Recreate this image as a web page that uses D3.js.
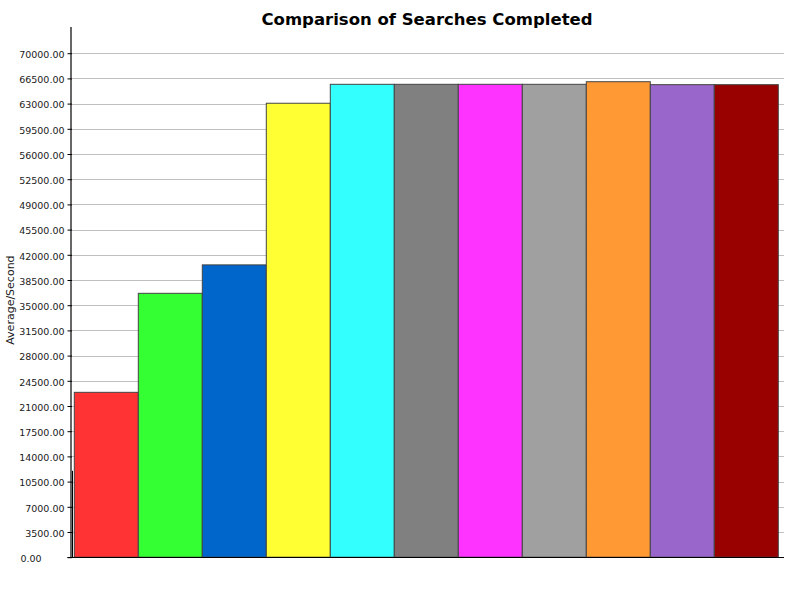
<!DOCTYPE html>
<html>
<head>
<meta charset="utf-8">
<script src="https://cdn.jsdelivr.net/npm/d3@7"></script>
<style>
  html, body { margin: 0; padding: 0; background: #ffffff; }
  svg { display: block; }
</style>
</head>
<body>
<svg id="chart" width="800" height="600"></svg>
<script>
// ---- data ----
const categories = ["S1", "S2", "S3", "S4", "S5", "S6", "S7", "S8", "S9", "S10", "S11"];
const values = [22900, 36650, 40600, 63050, 65680, 65680, 65680, 65680, 66040, 65630, 65630];
const colors = ["#ff3333", "#33ff33", "#0066cc", "#ffff33", "#33ffff", "#808080",
                "#ff33ff", "#a0a0a0", "#ff9933", "#9966cc", "#990000"];
const tickValues = d3.range(0, 70001, 3500);
const titleText = "Comparison of Searches Completed";
const yLabel = "Average/Second";

// ---- layout ----
const svg = d3.select("#chart");
const plot = { left: 72, right: 784, top: 27, bottom: 557.2 };
const axisX = 70.5;

const y = d3.scaleLinear().domain([0, 73640]).range([plot.bottom, plot.top]);
const x = d3.scaleBand().domain(categories).range([74.3, 778.3]).padding(0);

svg.append("rect").attr("width", 800).attr("height", 600).attr("fill", "#ffffff");

// gridlines
svg.append("g").selectAll("line").data(tickValues.filter(d => d > 0)).join("line")
  .attr("x1", plot.left).attr("x2", plot.right)
  .attr("y1", d => Math.round(y(d)) + 0.5).attr("y2", d => Math.round(y(d)) + 0.5)
  .attr("stroke", "#c0c0c0").attr("stroke-width", 1);

// bars
svg.append("g").selectAll("rect").data(values).join("rect")
  .attr("x", (d, i) => x(categories[i]))
  .attr("y", d => y(d))
  .attr("width", x.bandwidth())
  .attr("height", d => y(0) - y(d))
  .attr("fill", (d, i) => colors[i])
  .attr("stroke", "#444444").attr("stroke-width", 1);

// y axis
const yAxis = d3.axisLeft(y).tickValues(tickValues)
  .tickFormat(d3.format(".2f")).tickSize(4).tickSizeOuter(0);
const gy = svg.append("g").attr("transform", `translate(${axisX},0)`).call(yAxis);
gy.select(".domain").attr("stroke", "#000").attr("stroke-width", 1.2)
  .attr("d", `M0.5,${plot.top}V${plot.bottom}`);
gy.selectAll(".tick line").attr("stroke", "#000").attr("x1", 1.5).attr("x2", -3);
gy.selectAll(".tick text")
  .attr("x", -6).attr("dy", "0.45em")
  .attr("fill", "#1a1a1a")
  .style("font-family", "'DejaVu Sans', sans-serif").style("font-size", "9.5px");
gy.selectAll(".tick").filter(d => d === 0).select("text")
  .attr("x", -50).attr("text-anchor", "start");

// secondary short line near the base of the axis
svg.append("line").attr("x1", 72.5).attr("x2", 72.5)
  .attr("y1", y(12000)).attr("y2", plot.bottom)
  .attr("stroke", "#000").attr("stroke-width", 1);

// x axis baseline
svg.append("line").attr("x1", 67.5).attr("x2", plot.right)
  .attr("y1", Math.round(plot.bottom) + 0.5).attr("y2", Math.round(plot.bottom) + 0.5)
  .attr("stroke", "#000").attr("stroke-width", 1.2);

// title
svg.append("text").attr("x", 427).attr("y", 25)
  .attr("text-anchor", "middle")
  .style("font-family", "'DejaVu Sans', sans-serif")
  .style("font-size", "16.5px").style("font-weight", "bold")
  .attr("fill", "#000").text(titleText);

// y label
svg.append("text")
  .attr("transform", `translate(13.5,${(plot.top + plot.bottom) / 2 + 8}) rotate(-90)`)
  .attr("text-anchor", "middle")
  .style("font-family", "'DejaVu Sans', sans-serif").style("font-size", "11px")
  .attr("fill", "#1a1a1a").text(yLabel);
</script>
</body>
</html>
